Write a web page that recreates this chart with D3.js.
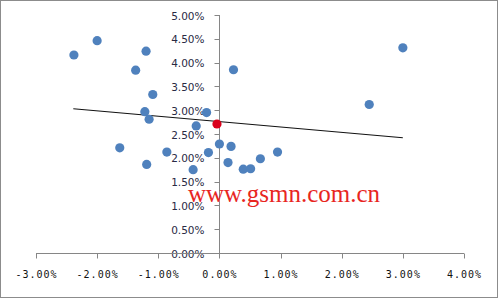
<!DOCTYPE html>
<meta charset="utf-8">
<script src="https://cdn.jsdelivr.net/npm/d3@7/dist/d3.min.js"></script>
<style>
 body { margin: 0; background: #fff; }
 svg { display: block; }
</style>
<div id="container"></div>
<script>
 // scatter values, in percent
 var xVals = [-2.38, -2.00, -1.20, -1.37, 0.23, -1.09, -1.22, -1.15, -0.21, -0.38,
              -1.63, -0.86, -1.19, -0.43, -0.18, 0.00, 0.19, 0.14, 0.39, 0.51,
              0.67, 0.95, 2.45, 3.00];
 var yVals = [4.16, 4.46, 4.24, 3.84, 3.85, 3.33, 2.97, 2.81, 2.95, 2.67,
              2.21, 2.12, 1.86, 1.75, 2.11, 2.29, 2.24, 1.90, 1.76, 1.77,
              1.98, 2.12, 3.12, 4.31];
 // highlighted point
 var redX = [-0.04];
 var redY = [2.71];
 // trend line end points
 var trendX = [-2.39, 3.00];
 var trendY = [3.03, 2.42];
 var xTicks = [-3, -2, -1, 0, 1, 2, 3, 4];
 var yTicks = [0, 0.5, 1, 1.5, 2, 2.5, 3, 3.5, 4, 4.5, 5];
 var watermark = "www.gsmn.com.cn";

 var width = 500, height = 301;

 var svg = d3.select("#container").append("svg")
             .attr("width", width)
             .attr("height", height);

 // outer frame
 svg.append("rect")
    .attr("x", 0.5).attr("y", 0.5)
    .attr("width", 497).attr("height", 297)
    .attr("fill", "#fff")
    .attr("stroke", "#8c8c8c");

 var x = d3.scaleLinear().domain([-3, 4]).range([36, 464]);
 var y = d3.scaleLinear().domain([0, 5]).range([253, 15]);
 var fmt = v => v.toFixed(2) + "%";

 // y axis (sits at x = 0)
 var yAxis = svg.append("g").attr("transform", `translate(${Math.round(x(0)) + 0.5},0)`);
 yAxis.append("line")
      .attr("y1", y(5)).attr("y2", y(0))
      .attr("stroke", "#868686");
 yAxis.selectAll("line.tick")
      .data(yTicks).enter().append("line")
      .attr("class", "tick")
      .attr("x1", -5).attr("x2", 0)
      .attr("y1", d => Math.round(y(d)) + 0.5)
      .attr("y2", d => Math.round(y(d)) + 0.5)
      .attr("stroke", "#868686");
 yAxis.selectAll("text")
      .data(yTicks).enter().append("text")
      .attr("x", -15)
      .attr("y", d => y(d) + 4.5)
      .attr("text-anchor", "end")
      .attr("style", "font: 10.5px 'DejaVu Sans', sans-serif")
      .attr("fill", "#2a2a44")
      .text(fmt);

 // x axis (sits at y = 0)
 var xAxis = svg.append("g").attr("transform", `translate(0,${Math.round(y(0)) + 0.5})`);
 xAxis.append("line")
      .attr("x1", x(-3)).attr("x2", x(4))
      .attr("stroke", "#868686");
 xAxis.selectAll("line.tick")
      .data(xTicks).enter().append("line")
      .attr("class", "tick")
      .attr("x1", d => Math.round(x(d)) + 0.5)
      .attr("x2", d => Math.round(x(d)) + 0.5)
      .attr("y1", 0).attr("y2", 5)
      .attr("stroke", "#868686");
 xAxis.selectAll("text")
      .data(xTicks).enter().append("text")
      .attr("x", d => x(d) + 0.5)
      .attr("y", 24)
      .attr("text-anchor", "middle")
      .attr("style", "font: 10px 'DejaVu Sans Mono', monospace; letter-spacing: 1px")
      .attr("fill", "#111")
      .text(fmt);

 // trend line
 svg.append("line")
    .attr("x1", x(trendX[0])).attr("y1", y(trendY[0]))
    .attr("x2", x(trendX[1])).attr("y2", y(trendY[1]))
    .attr("stroke", "#111")
    .attr("stroke-width", 1.1);

 // points
 svg.append("g").selectAll("circle")
    .data(d3.range(xVals.length)).enter().append("circle")
    .attr("cx", i => x(xVals[i]))
    .attr("cy", i => y(yVals[i]))
    .attr("r", 4.6)
    .attr("fill", "#4f81bd");

 svg.append("g").selectAll("circle")
    .data(d3.range(redX.length)).enter().append("circle")
    .attr("cx", i => x(redX[i]))
    .attr("cy", i => y(redY[i]))
    .attr("r", 4.6)
    .attr("fill", "#d9001b");

 // watermark
 svg.append("text")
    .attr("x", 188)
    .attr("y", 202)
    .attr("style", "font: 25px 'Liberation Serif', serif")
    .attr("fill", "#e8261f")
    .text(watermark);
</script>
